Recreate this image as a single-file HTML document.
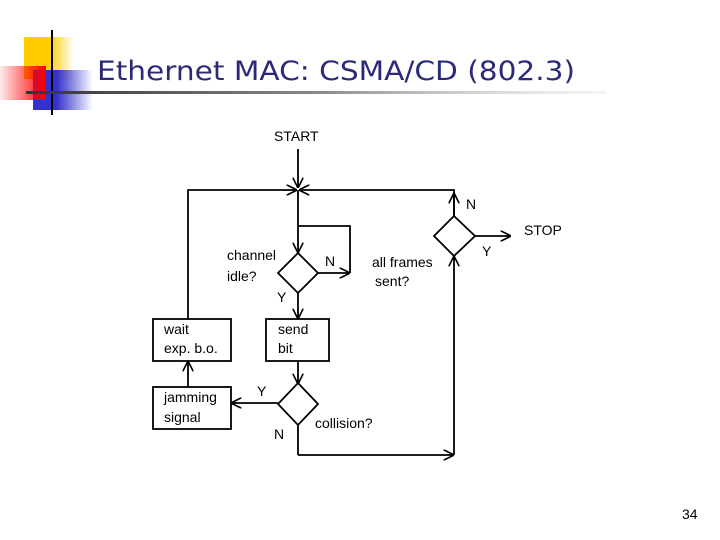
<!DOCTYPE html>
<html><head><meta charset="utf-8"><style>
html,body{margin:0;padding:0;background:#fff;}
svg{display:block;}
</style></head><body>
<svg width="720" height="540" viewBox="0 0 720 540" xmlns="http://www.w3.org/2000/svg">
<defs>
<linearGradient id="gy" x1="0" x2="1"><stop offset="0" stop-color="#ffcc00"/><stop offset="0.5" stop-color="#ffcc00"/><stop offset="1" stop-color="#ffcc00" stop-opacity="0"/></linearGradient>
<linearGradient id="gr" x1="1" x2="0"><stop offset="0" stop-color="#ff0000"/><stop offset="1" stop-color="#ff0000" stop-opacity="0.08"/></linearGradient>
<linearGradient id="gb" x1="0" x2="1"><stop offset="0" stop-color="#3333cc"/><stop offset="0.4" stop-color="#3333cc"/><stop offset="1" stop-color="#3333cc" stop-opacity="0"/></linearGradient>
<linearGradient id="gl" x1="0" x2="1"><stop offset="0" stop-color="#333"/><stop offset="0.5" stop-color="#888"/><stop offset="1" stop-color="#ddd" stop-opacity="0.3"/></linearGradient>
<marker id="a" viewBox="0 0 10 10" refX="9" refY="5" markerWidth="6" markerHeight="6" orient="auto"><path d="M0,0 L10,5 L0,10" fill="none" stroke="#000" stroke-width="1.5"/></marker>
</defs>
<rect x="24" y="37" width="50" height="42" fill="url(#gy)"/>
<rect x="33" y="70" width="60" height="40" fill="url(#gb)"/>
<rect x="0" y="66" width="46" height="34" fill="url(#gr)"/>
<line x1="52" y1="30" x2="52" y2="115" stroke="#000" stroke-width="2"/>
<rect x="26" y="91" width="580" height="3" fill="url(#gl)"/>
<text x="97" y="80" font-family="DejaVu Sans, sans-serif" font-size="27" fill="#2a2a78" textLength="478" lengthAdjust="spacingAndGlyphs">Ethernet MAC: CSMA/CD (802.3)</text>
<text x="682" y="519" font-family="Liberation Sans, sans-serif" font-size="14" fill="#000">34</text>

<g stroke="#000" stroke-width="1.8" fill="none">
<line x1="298" y1="149" x2="298" y2="187" marker-end="url(#a)"/>
<polyline points="188,319 188,190 296,190" marker-end="url(#a)"/>
<polyline points="454,216 454,190 300,190" marker-end="url(#a)"/>
<line x1="454" y1="216" x2="454" y2="194" marker-end="url(#a)"/>
<line x1="298" y1="190" x2="298" y2="252" marker-end="url(#a)"/>
<polyline points="298,226 350,226 350,273"/>
<line x1="318" y1="273" x2="349" y2="273" marker-end="url(#a)"/>
<polygon points="298,253 318,273 298,293 278,273" fill="#fff"/>
<line x1="298" y1="293" x2="298" y2="318" marker-end="url(#a)"/>
<rect x="266" y="319" width="63" height="42" fill="#fff"/>
<line x1="298" y1="361" x2="298" y2="383" marker-end="url(#a)"/>
<polygon points="298,383 318,404 298,425 278,404" fill="#fff"/>
<line x1="278" y1="403" x2="232" y2="403" marker-end="url(#a)"/>
<rect x="153" y="387" width="78" height="42" fill="#fff"/>
<rect x="153" y="319" width="78" height="42" fill="#fff"/>
<line x1="188" y1="387" x2="188" y2="362" marker-end="url(#a)"/>
<line x1="298" y1="425" x2="298" y2="455"/>
<polyline points="298,455 453,455" marker-end="url(#a)"/>
<line x1="454" y1="455" x2="454" y2="257" marker-end="url(#a)"/>
<polygon points="454,216 475,236 454,256 434,236" fill="#fff"/>
<line x1="475" y1="236" x2="510" y2="236" marker-end="url(#a)"/>
</g>
<g font-family="Liberation Sans, sans-serif" font-size="14" fill="#000">
<text x="274" y="141">START</text>
<text x="524" y="235">STOP</text>
<text x="466" y="209">N</text>
<text x="482" y="256">Y</text>
<text x="227" y="260">channel</text>
<text x="227" y="281">idle?</text>
<text x="325" y="266">N</text>
<text x="277" y="302">Y</text>
<text x="372" y="267">all frames</text>
<text x="375" y="286">sent?</text>
<text x="278" y="334">send</text>
<text x="278" y="353">bit</text>
<text x="164" y="334">wait</text>
<text x="164" y="353">exp. b.o.</text>
<text x="164" y="402">jamming</text>
<text x="164" y="422">signal</text>
<text x="257" y="396">Y</text>
<text x="315" y="428">collision?</text>
<text x="274" y="439">N</text>
</g>
</svg>
</body></html>
